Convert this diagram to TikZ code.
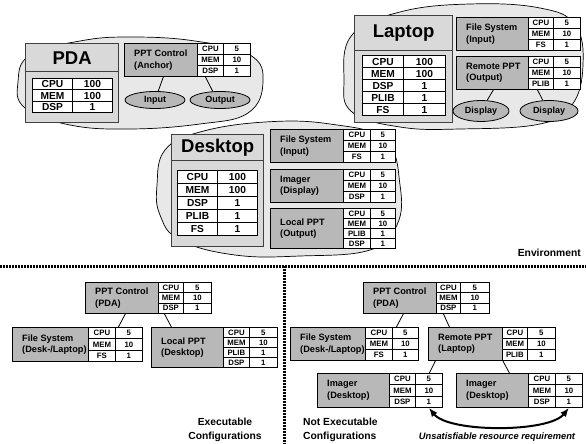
\documentclass[tikz,border=0pt]{standalone}
\usepackage{fontspec}
\setmainfont{Liberation Sans}
\usetikzlibrary{arrows.meta,shapes.geometric}

\definecolor{blobgray}{HTML}{E8E8E8}
\definecolor{devgray}{HTML}{D9D9D9}
\definecolor{compgray}{HTML}{B8B8B8}

\newcount\rowcnt

% \tbl{name}{style}{x1}{xs}{x2}{y1}{y2}{rows}
\newcommand\tbl[8]{%
 \global\rowcnt=0
 \foreach \r in {#8}{\global\advance\rowcnt by 1}%
 \pgfmathsetmacro\rh{(#7-#6)/\the\rowcnt}%
 \foreach \k/\v [count=\i] in {#8}{%
   \pgfmathsetmacro\ya{#6+(\i-1)*\rh}%
   \node[#2, minimum width={#4-#3}, minimum height=\rh] (#1-k\i) at (#3,\ya) {\k};
   \node[#2, minimum width={#5-#4}, minimum height=\rh] (#1-v\i) at (#4,\ya) {\v};
 }}

% \comp{name}{x1}{x2}{xs}{x3}{y1}{y2}{label}{rows}
\newcommand\comp[9]{%
 \node[compbox, minimum width={#3-#2}, minimum height={#7-#6}] (#1) at (#2,#6) {};
 \node[complabel] (#1-lbl) at ([xshift=10pt]#1.west) {#8};
 \tbl{#1}{cell}{#3}{#4}{#5}{#6}{#7}{#9}}

\begin{document}
\begin{tikzpicture}[x=1pt,y=-1pt,
  blob/.style={draw=black, line width=0.7pt, fill=blobgray},
  devbox/.style={draw=black!75, line width=1.3pt, fill=devgray, inner sep=0, anchor=north west},
  devtitle/.style={devbox, font=\fontsize{18.5}{20}\selectfont\bfseries},
  compbox/.style={draw=black, line width=0.8pt, fill=compgray, inner sep=0, anchor=north west},
  complabel/.style={font=\fontsize{9.2}{11.5}\selectfont\bfseries, align=left, anchor=west, inner sep=0},
  cell/.style={draw=black, line width=0.8pt, fill=white, inner sep=0, anchor=north west, font=\fontsize{7.8}{8}\selectfont\bfseries},
  devcell/.style={cell, line width=1pt, font=\fontsize{10.2}{11}\selectfont\bfseries},
  port/.style={ellipse, draw=black, line width=0.8pt, fill=compgray, inner sep=0, font=\fontsize{9}{10}\selectfont\bfseries},
  link/.style={draw=black, line width=0.8pt},
  note/.style={font=\fontsize{10.3}{13.5}\selectfont\bfseries, inner sep=0},
  sepline/.style={line width=3pt, dash pattern=on 2pt off 1pt},
  arrowlink/.style={line width=2pt, {Latex[length=9pt,width=7pt]}-{Latex[length=9pt,width=7pt]}}
]
\useasboundingbox (0,0) rectangle (586,444);

% ---------- blobs ----------
\draw[blob] plot[smooth cycle, tension=0.7] coordinates {(18,82) (30,55) (80,41) (130,37) (195,41) (250,55) (263,82) (248,113) (200,124) (130,129) (70,125) (25,108)};
\draw[blob] plot[smooth cycle, tension=0.7] coordinates {(344,80) (352,35) (400,12) (470,4) (540,8) (575,25) (583,65) (572,105) (540,124) (460,129) (400,127) (352,112)};
\draw[blob] plot[smooth cycle, tension=0.7] coordinates {(157,185) (165,150) (200,132) (265,122) (330,124) (385,140) (400,185) (397,225) (370,250) (300,256) (235,255) (180,240) (160,215)};

% ---------- PDA ----------
\node[devtitle, minimum width=93, minimum height=28] (pda) at (25,43) {PDA};
\node[devbox, minimum width=93, minimum height=51] (pdab) at (25,71) {};
\tbl{pdat}{devcell}{32}{72}{112}{78}{112}{CPU/100,MEM/100,DSP/1}
\comp{ctl}{124}{197}{223}{250}{43}{76}{PPT Control\\(Anchor)}{CPU/5,MEM/10,DSP/1}
\node[port, minimum width=60, minimum height=17] (in) at (155,100) {Input};
\node[port, minimum width=60, minimum height=17] (out) at (220,100) {Output};
\draw[link] ([xshift=2.5pt]ctl.south) -- (in.70);
\draw[link] ([xshift=-5pt]ctl-k3.south) -- (out.130);

% ---------- Laptop ----------
\node[devtitle, minimum width=98, minimum height=35] (lap) at (354,15) {Laptop};
\node[devbox, minimum width=98, minimum height=72] (lapb) at (354,50) {};
\tbl{lapt}{devcell}{362}{403}{445}{55}{115}{CPU/100,MEM/100,DSP/1,PLIB/1,FS/1}
\comp{lfs}{456}{528}{553}{580}{17}{50}{File System\\(Input)}{CPU/5,MEM/10,FS/1}
\comp{rppt}{456}{528}{553}{580}{56}{89}{Remote PPT\\(Output)}{CPU/5,MEM/10,PLIB/1}
\node[port, minimum width=56, minimum height=21] (d1) at (481,111) {Display};
\node[port, minimum width=58, minimum height=21] (d2) at (549,111) {Display};
\draw[link] ([xshift=1pt]rppt.south) -- (d1.60);
\draw[link] ([xshift=-3.5pt]rppt-k3.south) -- (d2.120);

% ---------- Desktop ----------
\node[devtitle, minimum width=92, minimum height=26] (dsk) at (171,134) {Desktop};
\node[devbox, minimum width=92, minimum height=86] (dskb) at (171,160) {};
\tbl{dskt}{devcell}{177}{217}{257}{170}{235}{CPU/100,MEM/100,DSP/1,PLIB/1,FS/1}
\comp{dfs}{270}{343}{370}{395}{129}{162}{File System\\(Input)}{CPU/5,MEM/10,FS/1}
\comp{dimg}{270}{343}{370}{395}{169}{202}{Imager\\(Display)}{CPU/5,MEM/10,DSP/1}
\comp{dlp}{270}{343}{370}{395}{208}{248}{Local PPT\\(Output)}{CPU/5,MEM/10,PLIB/1,DSP/1}

\node[note, anchor=east] (env) at (581,253) {Environment};

% ---------- separators ----------
\draw[sepline] (0,266) -- (586,266);
\draw[sepline] (284,266) -- (284,444);

% ---------- executable ----------
\comp{bctl}{85}{158}{183}{211}{282}{313}{PPT Control\\(PDA)}{CPU/5,MEM/10,DSP/1}
\comp{bfs}{12}{88}{115}{142}{327}{361}{File System\\(Desk-/Laptop)}{CPU/5,MEM/10,FS/1}
\comp{blp}{151}{223}{249}{277}{327}{367}{Local PPT\\(Desktop)}{CPU/5,MEM/10,PLIB/1,DSP/1}
\draw[link] ([xshift=3.5pt]bctl.south) -- ([xshift=-10.5pt]bfs-v1.north);
\draw[link] ([xshift=-6.5pt]bctl-k3.south) -- ([xshift=-16pt]blp.north);
\node[note, align=center] (exe) at (225,430) {Executable\\Configurations};

% ---------- not executable ----------
\comp{rctl}{363}{436}{460}{489}{282}{313}{PPT Control\\(PDA)}{CPU/5,MEM/10,DSP/1}
\comp{rfs}{290}{365}{392}{418}{327}{360}{File System\\(Desk-/Laptop)}{CPU/5,MEM/10,FS/1}
\comp{rrp}{428}{502}{527}{555}{327}{360}{Remote PPT\\(Laptop)}{CPU/5,MEM/10,PLIB/1}
\comp{ril}{317}{389}{415}{442}{373}{407}{Imager\\(Desktop)}{CPU/5,MEM/10,DSP/1}
\comp{rir}{456}{528}{555}{582}{373}{407}{Imager\\(Desktop)}{CPU/5,MEM/10,DSP/1}
\draw[link] ([xshift=3.5pt]rctl.south) -- ([xshift=-9pt]rfs-v1.north);
\draw[link] ([xshift=-5pt]rctl-k3.south) -- ([xshift=-16pt]rrp.north);
\draw[link] ([xshift=-30pt]rrp.south) -- ([xshift=0.5pt]ril-v1.north);
\draw[link] (rrp.south east) -- ([xshift=17pt]rir.north);
\draw[arrowlink] (ril-v3.south) .. controls +(20,25) and +(-20,25) .. (rir-v3.south);
\node[note, align=left, anchor=west] (nexe) at (303,430) {Not Executable\\Configurations};
\node[note, font=\fontsize{9.3}{11}\selectfont\bfseries\itshape] (unsat) at (497,437) {Unsatisfiable resource requirement};
\end{tikzpicture}
\end{document}
